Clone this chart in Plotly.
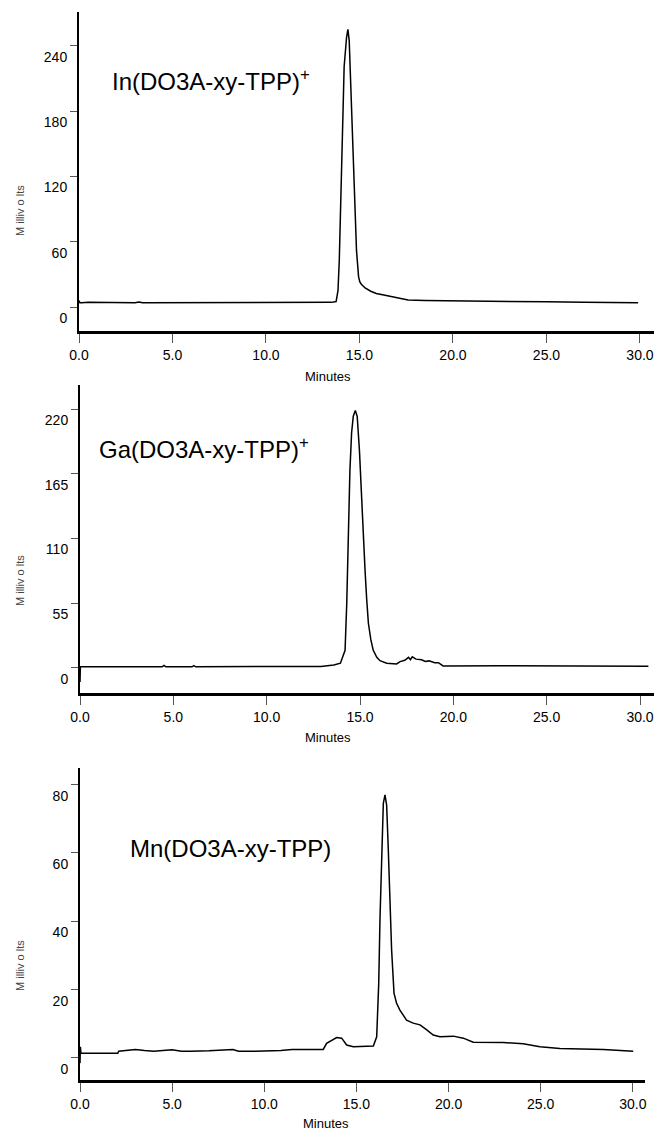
import plotly.graph_objs as go

# chromatogram traces (minutes, millivolts)
IN_T = [0.0, 0.05, 0.15, 0.5, 3.0, 3.2, 3.4, 7.4, 8.6, 9.0, 10.0, 10.6, 11.2, 12.0, 12.5, 13.0,
        13.5, 13.75, 13.85, 13.92, 14.04, 14.18, 14.31, 14.38, 14.45, 14.57, 14.72, 14.84,
        14.95, 15.02, 15.1, 15.3, 15.6, 15.9, 16.3, 16.6, 17.1, 17.6, 18.5, 20.0, 22.0,
        25.0, 27.0, 29.0, 29.9]
IN_MV = [6, 4, 4, 4.5, 4, 4.6, 4, 4.3, 4.5, 4.2, 4.6, 4.2, 4.5, 4.3, 4.2, 4.2,
         4.3, 5, 15, 43, 129, 221, 248, 255, 245, 190, 114, 52,
         28, 23, 21, 17.5, 14.5, 12.5, 11, 10, 8, 6.5, 6, 5.6, 5.2,
         4.8, 4.5, 4.2, 4.0]

GA_T = [0.0, 0.02, 0.1, 4.4, 4.5, 4.6, 6.0, 6.1, 6.2, 12.5, 12.9, 13.6, 13.95, 14.2, 14.29,
        14.38, 14.46, 14.55, 14.64, 14.75, 14.85, 14.97, 15.09, 15.18, 15.27, 15.36, 15.45,
        15.58, 15.71, 15.9, 16.07, 16.43, 16.96, 17.15, 17.4, 17.6, 17.7, 17.8, 18.0, 18.3,
        18.5, 18.7, 19.0, 19.2, 19.45, 22.5, 26.0, 29.0, 30.45]
GA_MV = [-12, 1, 1, 1, 2.2, 1, 1, 2, 1, 1.1, 1.3, 2.5, 4, 15, 55,
         115, 168, 200, 214, 219, 214, 185, 140, 108, 83, 58, 38,
         24, 15, 9, 6.2, 4, 3.4, 5.4, 6.5, 9, 7, 9.5, 7.5, 7,
         5.5, 6, 4.5, 4.5, 1.7, 1.8, 1.8, 1.5, 1.4]

MN_T = [0.0, 0.02, 0.05, 0.1, 2.05, 2.1, 2.6, 3.0, 3.5, 4.0, 5.0, 5.5, 6.0, 7.0, 8.3, 8.6,
        9.5, 10.5, 10.9, 11.5, 12.0, 13.2, 13.38, 13.6, 13.93, 14.2, 14.47, 14.83, 15.4,
        15.92, 16.1, 16.21, 16.28, 16.37, 16.46, 16.55, 16.64, 16.73, 16.82, 16.91, 17.04,
        17.18, 17.36, 17.72, 18.08, 18.45, 18.8, 19.17, 19.53, 20.26, 20.8, 21.34, 22.97,
        24.05, 24.96, 26.04, 28.4, 30.02]
MN_MV = [-1.5, 3.3, 1.4, 1.4, 1.4, 2.0, 2.2, 2.5, 2.2, 2.0, 2.4, 2.0, 2.0, 2.1, 2.5, 2.0,
         2.0, 2.0, 2.2, 2.5, 2.5, 2.5, 4.3, 5.0, 6.0, 5.8, 3.8, 3.3, 3.3,
         3.5, 6.2, 21.8, 41, 61, 74.5, 77, 74, 61, 46, 31.6, 19,
         16, 14, 11.1, 10.2, 9.7, 8.3, 6.7, 6.2, 6.4, 5.8, 4.6, 4.5,
         4.2, 3.3, 2.8, 2.5, 2.0]

X_TICKS = [0, 5, 10, 15, 20, 25, 30]
X_TICKTEXT = ["0.0", "5.0", "10.0", "15.0", "20.0", "25.0", "30.0"]
Y_TICKS_IN = [0, 60, 120, 180, 240]
Y_TICKS_GA = [0, 55, 110, 165, 220]
Y_TICKS_MN = [0, 20, 40, 60, 80]

LABELS = ["In(DO3A-xy-TPP)<sup>+</sup>", "Ga(DO3A-xy-TPP)<sup>+</sup>", "Mn(DO3A-xy-TPP)"]

W, H = 654, 1132
SANS = "Liberation Sans, Arial, sans-serif"


def px(x):
    return x / W


def py(y):
    return (H - y) / H


def xaxis_style(x0, x1, rng, anchor):
    return dict(domain=[px(x0), px(x1)], range=rng, anchor=anchor, automargin=False,
                tickvals=X_TICKS, ticktext=X_TICKTEXT,
                showline=True, linecolor="black", linewidth=3,
                ticks="outside", ticklen=9, tickwidth=1, tickcolor="#555",
                showgrid=False, zeroline=False,
                tickfont=dict(family=SANS, size=14, color="black"))


def yaxis_style(top, bottom, rng, ticks, anchor):
    return dict(domain=[py(bottom), py(top)], range=rng, anchor=anchor, automargin=False,
                tickvals=ticks, showline=True, linecolor="black", linewidth=2,
                ticks="outside", ticklen=7, tickwidth=1, tickcolor="#555",
                ticklabelshift=11,
                showgrid=False, zeroline=False,
                tickfont=dict(family=SANS, size=14, color="black"))


line = dict(color="black", width=1.5)
traces = [
    go.Scatter(x=IN_T, y=IN_MV, mode="lines", line=line, xaxis="x", yaxis="y"),
    go.Scatter(x=GA_T, y=GA_MV, mode="lines", line=line, xaxis="x2", yaxis="y2"),
    go.Scatter(x=MN_T, y=MN_MV, mode="lines", line=line, xaxis="x3", yaxis="y3"),
]

layout = dict(
    width=W, height=H, showlegend=False,
    margin=dict(l=0, r=0, t=0, b=0, pad=0),
    paper_bgcolor="white", plot_bgcolor="white",
    xaxis=xaxis_style(79, 654, [0, 30.75], "y"),
    yaxis=yaxis_style(12, 331, [-22, 271], Y_TICKS_IN, "x"),
    xaxis2=xaxis_style(80, 654, [0, 30.75], "y2"),
    yaxis2=yaxis_style(385, 693, [-21.3, 240.6], Y_TICKS_GA, "x2"),
    xaxis3=xaxis_style(80, 645, [0, 30.66], "y3"),
    yaxis3=yaxis_style(768, 1080, [-6.44, 84.87], Y_TICKS_MN, "x3"),
)

fig = go.Figure(data=traces, layout=layout)

# compound labels
for (x0, yc), txt in zip([(110, 80), (97, 448), (128, 848)], LABELS):
    fig.add_annotation(x=px(x0), y=py(yc), xref="paper", yref="paper", text=txt,
                       showarrow=False, xanchor="left", yanchor="middle",
                       font=dict(family=SANS, size=24, color="black"))

# axis titles
for yc in [211, 581, 966]:
    fig.add_annotation(x=px(20), y=py(yc), xref="paper", yref="paper", text="M illiv o lts",
                       textangle=-90, showarrow=False, xanchor="center", yanchor="middle",
                       font=dict(family=SANS, size=11, color="#444"))
for xc, yc in [(328, 376), (328, 737), (326, 1123)]:
    fig.add_annotation(x=px(xc), y=py(yc), xref="paper", yref="paper", text="Minutes",
                       showarrow=False, xanchor="center", yanchor="middle",
                       font=dict(family=SANS, size=13, color="black"))

# drop the default body margin so the figure sits flush in the window
fig.write_html("out.html", config={"displayModeBar": False},
               post_script="document.body.style.margin='0';")
